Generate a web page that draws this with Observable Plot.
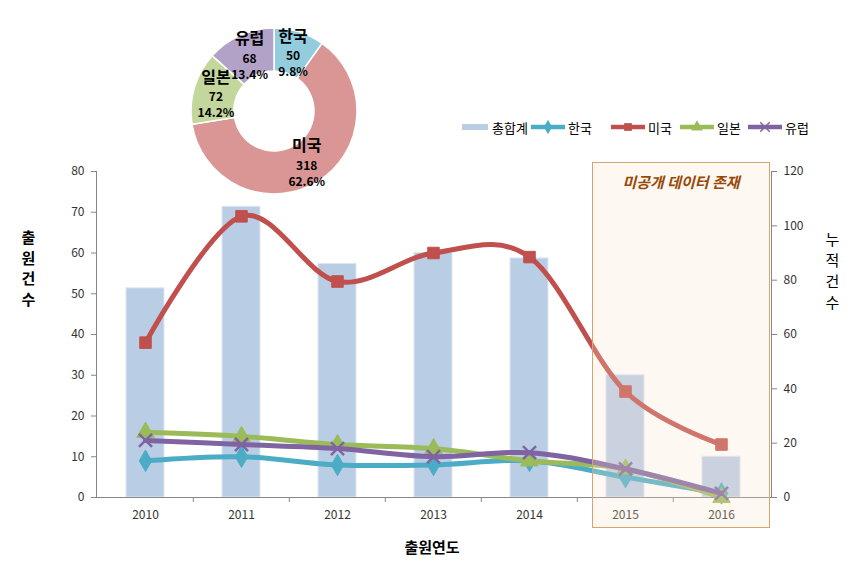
<!DOCTYPE html>
<html><head><meta charset="utf-8">
<script src="https://cdn.jsdelivr.net/npm/d3@7"></script>
<script src="https://cdn.jsdelivr.net/npm/@observablehq/plot@0.6"></script>
<style>
body{margin:0;background:#fff;font-family:"Noto Sans CJK KR","Noto Sans",sans-serif;}
#wrap{position:relative;width:856px;height:568px;overflow:hidden;background:#fff}
#wrap > *{position:absolute}
.vt{color:#000;text-align:center}
.vt span{display:block;overflow:visible}
.lg{display:flex;align-items:center;font-size:13px;color:#000;height:16px}
</style></head><body><div id="wrap"></div>
<script>
// ---------- data ----------
const years = ["2010", "2011", "2012", "2013", "2014", "2015", "2016"];
const korea  = [9, 10, 8, 8, 9, 5, 1];
const usa    = [38, 69, 53, 60, 59, 26, 13];
const japan  = [16, 15, 13, 12, 9, 7, 0];
const europe = [14, 13, 12, 10, 11, 7, 1];
const total  = [77, 107, 86, 90, 88, 45, 15];
const leftTicks  = [0, 10, 20, 30, 40, 50, 60, 70, 80];
const rightTicks = [0, 20, 40, 60, 80, 100, 120];
const pieNames  = ["한국", "미국", "일본", "유럽"];
const pieValues = [50, 318, 72, 68];
const seriesNames = ["한국", "미국", "일본", "유럽"];
const totalName = "총합계";

// ---------- styles ----------
const FONT = '"Noto Sans CJK KR","Noto Sans",sans-serif';
const colors = {"한국": "#4bacc6", "미국": "#c0504d", "일본": "#9bbb59", "유럽": "#8064a2"};
const symbols = {"한국": "diamond", "미국": "square", "일본": "triangle", "유럽": "times"};
const pieColors = {"한국": "#93cddd", "미국": "#d99694", "일본": "#c3d69b", "유럽": "#b3a2c7"};
const barColor = "#b9cde5";
const axisColor = "#868686";

const W = 856, H = 568, mL = 96, mR = 85, mT = 171, mB = 71;
const step = (W - mL - mR) / years.length;
const k = leftTicks[leftTicks.length - 1] / rightTicks[rightTicks.length - 1];

const seriesValues = [korea, usa, japan, europe];
const rows = years.map((year, i) => ({year, total: total[i]}));
const long = seriesNames.flatMap((name, s) => years.map((year, i) => ({name, year, v: seriesValues[s][i]})));

const wrap = document.getElementById("wrap");

const lineMarks = seriesNames.flatMap(name => {
  const d = long.filter(r => r.name === name);
  const sym = symbols[name];
  const dot = sym === "times"
    ? Plot.dot(d, {x: "year", y: "v", symbol: sym, r: 6, stroke: colors[name], strokeWidth: 2.5})
    : Plot.dot(d, {x: "year", y: "v", symbol: sym, r: 6.5, fill: colors[name], stroke: colors[name], strokeWidth: 1});
  return [
    Plot.line(d, {x: "year", y: "v", stroke: colors[name], strokeWidth: 5, curve: "cardinal", strokeLinecap: "round"}),
    dot
  ];
});

const main = Plot.plot({
  width: W, height: H, marginLeft: mL, marginRight: mR, marginTop: mT, marginBottom: mB,
  style: {fontFamily: FONT, fontSize: "12px", color: "#333", background: "transparent"},
  x: {type: "band", domain: years, paddingInner: 0.6, paddingOuter: 0.3, axis: null, label: null},
  y: {domain: [0, 80], axis: null, label: null},
  marks: [
    Plot.barY(rows, {x: "year", y: d => d.total * k, fill: barColor, stroke: "#dde7f2", strokeWidth: 1}),
    Plot.ruleY([0], {stroke: axisColor}),
    Plot.frame({anchor: "left", stroke: axisColor}),
    Plot.frame({anchor: "right", stroke: axisColor}),
    Plot.ruleX(years.slice(1), {x: d => d, y1: 0, y2: 0, insetBottom: -5, dx: -step / 2, stroke: axisColor}),
    Plot.axisY(leftTicks, {anchor: "left", label: null, tickSize: 5, tickPadding: 7, stroke: axisColor, fill: "#333"}),
    Plot.axisY(rightTicks, {anchor: "right", label: null, y: d => d * k, text: d => String(d), tickSize: 5, tickPadding: 7, stroke: axisColor, fill: "#333"}),
    Plot.axisX({label: null, tickSize: 0, tickPadding: 13, fill: "#333"}),
    ...lineMarks
  ]
});
main.style.left = "0px"; main.style.top = "0px";
wrap.appendChild(main);

// ---------- annotation box ----------
const box = document.createElement("div");
Object.assign(box.style, {left: "592px", top: "162px", width: "176px", height: "364px",
  border: "1.5px solid #d9a36e", background: "rgba(250,228,205,0.25)"});
const boxText = document.createElement("div");
boxText.textContent = "미공개 데이터 존재";
Object.assign(boxText.style, {position: "absolute", left: "0", right: "0", top: "8px", textAlign: "center",
  fontStyle: "italic", fontWeight: "bold", fontSize: "15px", color: "#984807"});
box.appendChild(boxText);
wrap.appendChild(box);

// ---------- donut ----------
const pieData = pieNames.map((name, i) => ({name, value: pieValues[i]}));
const pieSum = d3.sum(pieValues);
const arcs = d3.pie().sort(null).value(d => d.value)(pieData);
const R0 = 40, R1 = 83, RL = 61, S = 190;
const pieLabels = arcs.map(a => {
  const m = (a.startAngle + a.endAngle) / 2;
  return {name: a.data.name, value: String(a.data.value), pct: (a.data.value / pieSum * 100).toFixed(1) + "%",
    x: RL * Math.sin(m), y: -RL * Math.cos(m)};
});
const pie = Plot.plot({
  width: S, height: S, margin: 0,
  style: {fontFamily: FONT, background: "transparent", color: "#000"},
  x: {domain: [-S / 2, S / 2], range: [0, S], axis: null},
  y: {domain: [-S / 2, S / 2], range: [0, S], axis: null},
  marks: [
    (index, scales) => {
      const g = d3.create("svg:g").attr("transform", `translate(${scales.x(0)},${scales.y(0)})`);
      g.selectAll("path").data(arcs).join("path")
        .attr("d", d3.arc().innerRadius(R0).outerRadius(R1))
        .attr("fill", d => pieColors[d.data.name])
        .attr("stroke", "white").attr("stroke-width", 1.5);
      return g.node();
    },
    Plot.text(pieLabels, {x: "x", y: "y", text: "name", dy: -17, fontSize: 16, fontWeight: "bold", fill: "#000"}),
    Plot.text(pieLabels, {x: "x", y: "y", text: "value", dy: 3, fontSize: 12, fontWeight: "bold", fill: "#000"}),
    Plot.text(pieLabels, {x: "x", y: "y", text: "pct", dy: 19, fontSize: 12, fontWeight: "bold", fill: "#000"})
  ]
});
pie.style.left = (274 - S / 2) + "px"; pie.style.top = (111 - S / 2) + "px";
wrap.appendChild(pie);

// ---------- axis titles ----------
function vtitle(text, left, top, size, weight, lh) {
  const d = document.createElement("div");
  d.className = "vt";
  Object.assign(d.style, {left: left + "px", top: top + "px", width: (size + 6) + "px", fontSize: size + "px", fontWeight: weight});
  for (const ch of text) {
    const s = document.createElement("span");
    s.textContent = ch;
    Object.assign(s.style, {height: lh + "px", lineHeight: lh + "px"});
    d.appendChild(s);
  }
  wrap.appendChild(d);
}
vtitle("출원건수", 18, 227, 15, "bold", 20.5);
vtitle("누적건수", 822, 228, 15, "normal", 21);
const xt = document.createElement("div");
xt.textContent = "출원연도";
Object.assign(xt.style, {left: "372px", width: "120px", top: "536px", textAlign: "center", fontSize: "15px", fontWeight: "bold", color: "#000", lineHeight: "22px"});
wrap.appendChild(xt);

// ---------- legend ----------
const lgLeft = [462, 530, 610, 679, 747];
const legendItems = [totalName, ...seriesNames];
legendItems.forEach((name, i) => {
  const it = document.createElement("div");
  it.className = "lg";
  Object.assign(it.style, {left: lgLeft[i] + "px", top: "119px"});
  const sw = d3.create("svg").attr("width", name === totalName ? 28 : 36).attr("height", 14).style("margin-right", "2px");
  if (name === totalName) {
    sw.append("rect").attr("x", 0).attr("y", 4).attr("width", 26).attr("height", 6).attr("fill", barColor);
  } else {
    sw.append("line").attr("x1", 1).attr("x2", 35).attr("y1", 7).attr("y2", 7).attr("stroke", colors[name]).attr("stroke-width", 4.5);
    const sym = d3.symbol(({diamond: d3.symbolDiamond, square: d3.symbolSquare, triangle: d3.symbolTriangle, times: d3.symbolTimes})[symbols[name]], 60)();
    const p = sw.append("path").attr("d", sym).attr("transform", "translate(18,7)");
    if (symbols[name] === "times") p.attr("fill", "none").attr("stroke", colors[name]).attr("stroke-width", 1.5);
    else p.attr("fill", colors[name]);
  }
  it.appendChild(sw.node());
  const t = document.createElement("span"); t.textContent = name; it.appendChild(t);
  wrap.appendChild(it);
});
</script></body></html>
